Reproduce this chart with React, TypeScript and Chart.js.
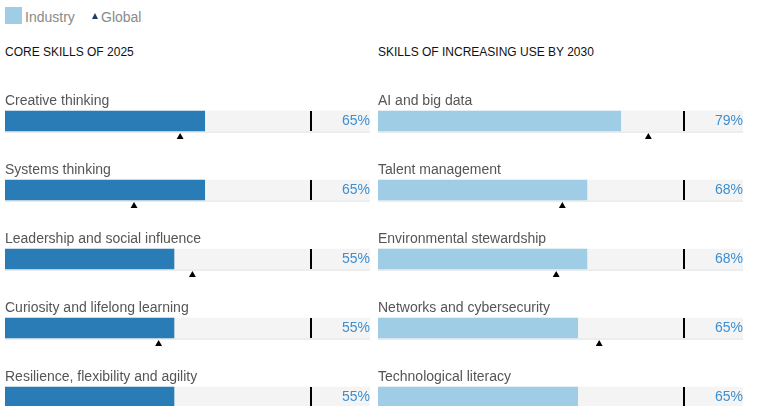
import React, { useEffect, useRef } from "react";
import { Chart, registerables } from "chart.js";

Chart.register(...registerables);

// ---- data ----
const coreSkills = [
  "Creative thinking",
  "Systems thinking",
  "Leadership and social influence",
  "Curiosity and lifelong learning",
  "Resilience, flexibility and agility",
];
const coreIndustry = [65, 65, 55, 55, 55];
const coreGlobal = [57, 42, 61, 50, 52];

const growthSkills = [
  "AI and big data",
  "Talent management",
  "Environmental stewardship",
  "Networks and cybersecurity",
  "Technological literacy",
];
const growthIndustry = [79, 68, 68, 65, 65];
const growthGlobal = [88, 60, 58, 72, 60];

const benchmarkValue = 100;
const trackMax = 118.8;

const FONT = '"Liberation Sans", Arial, Helvetica, sans-serif';
const CANVAS_W = 375;
const CANVAS_H = 440;

type PanelProps = {
  labels: string[];
  industry: number[];
  global: number[];
  color: string;
  left: number;
};

function Panel({ labels, industry, global, color, left }: PanelProps) {
  const ref = useRef<HTMLCanvasElement | null>(null);

  useEffect(() => {
    if (!ref.current) return;
    const decor = {
      id: "rowDecor",
      beforeDatasetsDraw(chart: any) {
        const { ctx, chartArea, scales } = chart;
        ctx.save();
        ctx.fillStyle = "#ececec";
        labels.forEach((_, i) => {
          const cy = scales.y.getPixelForValue(i);
          ctx.fillRect(chartArea.left, cy + 10, chartArea.right - chartArea.left, 2);
        });
        ctx.restore();
      },
      afterDatasetsDraw(chart: any) {
        const { ctx, chartArea, scales } = chart;
        ctx.save();
        const bx = Math.round(scales.x.getPixelForValue(benchmarkValue) - 2.5);
        labels.forEach((label, i) => {
          const cy = scales.y.getPixelForValue(i);
          ctx.fillStyle = "#000";
          ctx.fillRect(bx, cy - 10, 2, 20);
          ctx.font = `14px ${FONT}`;
          ctx.textBaseline = "alphabetic";
          ctx.textAlign = "left";
          ctx.fillStyle = "#555";
          ctx.fillText(label, chartArea.left, cy - 16);
          ctx.textAlign = "right";
          ctx.fillStyle = "#3d8fd0";
          ctx.fillText(`${industry[i]}%`, chartArea.right, cy + 3.5);
        });
        ctx.restore();
      },
    };

    const chart = new Chart(ref.current, {
      type: "bar",
      data: {
        labels,
        datasets: [
          {
            type: "scatter",
            label: "Global",
            data: global.map((v, i) => ({ x: v, y: i + 0.232 })),
            xAxisID: "x",
            yAxisID: "yg",
            pointStyle: "triangle",
            pointRadius: 4,
            backgroundColor: "#000",
            borderWidth: 0,
            order: 0,
          } as any,
          {
            label: "Industry",
            data: industry,
            backgroundColor: color,
            barThickness: 20,
            grouped: false,
            xAxisID: "x",
            yAxisID: "y",
            order: 1,
          },
          {
            label: "track",
            data: labels.map(() => trackMax),
            backgroundColor: "#f4f4f4",
            barThickness: 20,
            grouped: false,
            xAxisID: "x",
            yAxisID: "y",
            order: 2,
          },
        ],
      },
      options: {
        indexAxis: "y",
        responsive: false,
        animation: false,
        events: [],
        layout: { padding: { left: 5, right: 5, top: 86.5, bottom: CANVAS_H - 431.5 } },
        plugins: { legend: { display: false }, tooltip: { enabled: false } },
        scales: {
          x: { type: "linear", min: 0, max: trackMax, display: false, offset: false },
          y: { type: "category", display: false, offset: true },
          yg: {
            type: "linear",
            axis: "y",
            min: -0.5,
            max: 4.5,
            reverse: true,
            display: false,
            offset: false,
            grid: { offset: false },
          },
        },
      } as any,
      plugins: [decor],
    });
    return () => chart.destroy();
  }, [labels, industry, global, color]);

  return (
    <canvas
      ref={ref}
      width={CANVAS_W}
      height={CANVAS_H}
      style={{ position: "absolute", left, top: 0, width: CANVAS_W, height: CANVAS_H }}
    />
  );
}

const textBase: React.CSSProperties = {
  position: "absolute",
  fontFamily: FONT,
  whiteSpace: "nowrap",
};

export default function App() {
  return (
    <div
      style={{
        position: "fixed",
        left: 0,
        top: 0,
        width: 758,
        height: 406,
        overflow: "hidden",
        background: "#fff",
      }}
    >
      <div style={{ position: "absolute", left: 5, top: 7, width: 17, height: 17, background: "#9fcde5" }} />
      <div style={{ ...textBase, left: 25, top: 9.6, fontSize: 14, lineHeight: "14px", color: "#8a8a8a" }}>Industry</div>
      <div
        style={{
          position: "absolute",
          left: 92,
          top: 13.3,
          width: 0,
          height: 0,
          borderLeft: "3.5px solid transparent",
          borderRight: "3.5px solid transparent",
          borderBottom: "6px solid #1d3c6a",
        }}
      />
      <div style={{ ...textBase, left: 101, top: 9.6, fontSize: 14, lineHeight: "14px", color: "#8a8a8a" }}>Global</div>

      <div style={{ ...textBase, left: 5, top: 46, fontSize: 12, lineHeight: "12px", color: "#111" }}>CORE SKILLS OF 2025</div>
      <div style={{ ...textBase, left: 378, top: 46, fontSize: 12, lineHeight: "12px", color: "#111" }}>
        SKILLS OF INCREASING USE BY 2030
      </div>

      <Panel labels={coreSkills} industry={coreIndustry} global={coreGlobal} color="#2a7cb6" left={0} />
      <Panel labels={growthSkills} industry={growthIndustry} global={growthGlobal} color="#9fcde5" left={373} />
    </div>
  );
}
